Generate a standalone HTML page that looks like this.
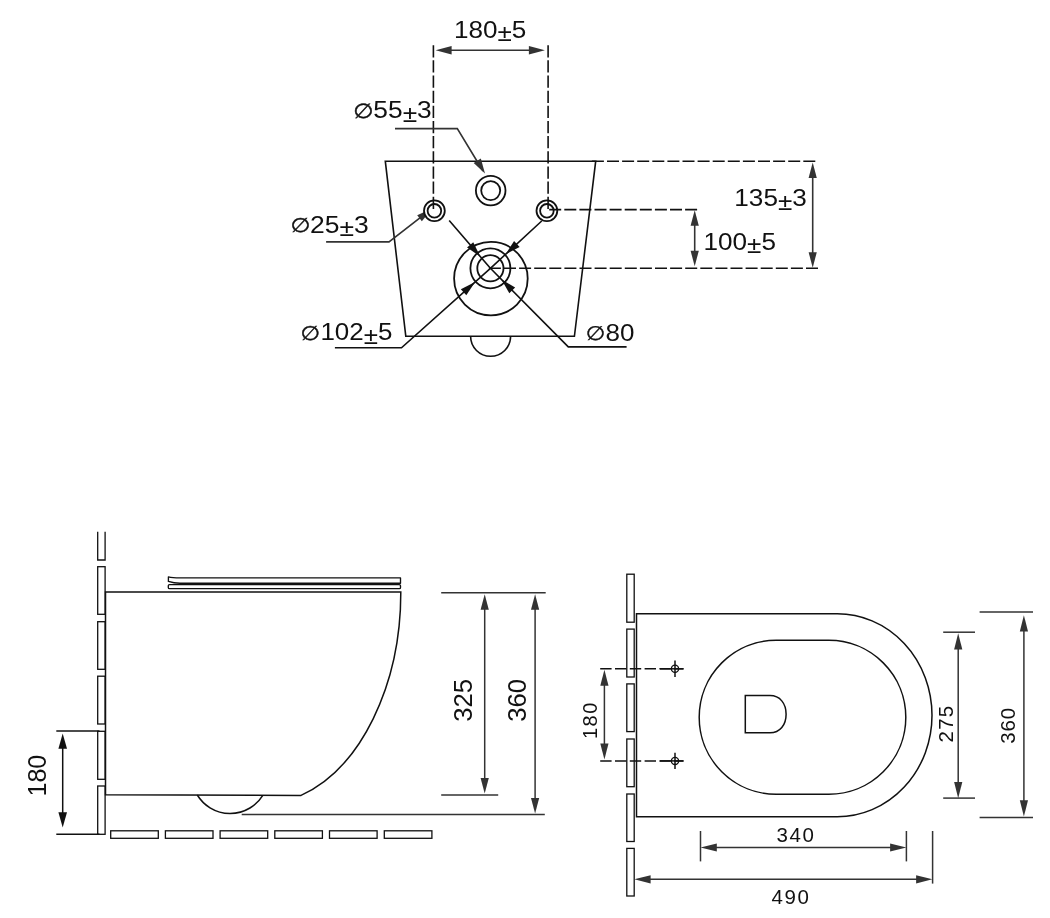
<!DOCTYPE html>
<html lang="en">
<head>
<meta charset="utf-8">
<title>Wall-hung toilet technical drawing</title>
<style>
html,body{margin:0;padding:0;background:#fff;}
body{width:1050px;height:918px;overflow:hidden;}
svg{display:block;will-change:transform;filter:grayscale(1);font-family:"Liberation Sans",sans-serif;}
.dia{font-family:"DejaVu Sans","Liberation Sans",sans-serif;}
</style>
</head>
<body>
<svg width="1050" height="918" viewBox="0 0 1050 918">
<rect width="1050" height="918" fill="#fff"/>
<g id="rear">
<path d="M385.3,161.2 H595.7 L574.4,336.3 H405.8 Z" fill="none" stroke="#111" stroke-width="1.6" stroke-linejoin="miter"/>
<path d="M470.6,336.3 A20,20 0 0 0 510.6,336.3" fill="none" stroke="#111" stroke-width="1.6"/>
<polyline points="326.1,241.9 389,241.9 432.5,208.2" fill="none" stroke="#333" stroke-width="1.6"/>
<polygon points="432.50,208.20 421.86,221.25 417.21,215.24" fill="#333"/>
<circle cx="490.70" cy="190.60" r="14.80" fill="none" stroke="#111" stroke-width="1.8"/>
<circle cx="490.70" cy="190.60" r="9.50" fill="none" stroke="#111" stroke-width="1.8"/>
<circle cx="434.40" cy="210.80" r="10.40" fill="#fff" stroke="#111" stroke-width="1.8"/>
<circle cx="434.40" cy="210.80" r="6.80" fill="none" stroke="#111" stroke-width="1.8"/>
<circle cx="546.90" cy="210.80" r="10.40" fill="none" stroke="#111" stroke-width="1.8"/>
<circle cx="546.90" cy="210.80" r="6.80" fill="none" stroke="#111" stroke-width="1.8"/>
<circle cx="490.40" cy="268.30" r="20.00" fill="none" stroke="#111" stroke-width="1.8"/>
<circle cx="490.40" cy="268.30" r="13.10" fill="none" stroke="#111" stroke-width="1.8"/>
<circle cx="490.90" cy="278.60" r="36.80" fill="none" stroke="#111" stroke-width="1.8"/>
<line x1="433.40" y1="45.20" x2="433.40" y2="208.90" stroke="#111" stroke-width="1.6" stroke-dasharray="12.25 2.9"/>
<line x1="548.10" y1="45.20" x2="548.10" y2="208.90" stroke="#111" stroke-width="1.6" stroke-dasharray="12.25 2.9"/>
<line x1="448.40" y1="50.30" x2="532.10" y2="50.30" stroke="#333" stroke-width="1.6"/><polygon points="435.60,50.30 451.60,46.00 451.60,54.60" fill="#333"/><polygon points="544.90,50.30 528.90,54.60 528.90,46.00" fill="#333"/>
<text transform="translate(454.02 37.50) scale(1.1344 1.0000)" font-size="23.0" fill="#111">180<tspan dy="3.4">±</tspan><tspan dy="-3.4">5</tspan></text>
<line x1="591.90" y1="161.20" x2="817.50" y2="161.20" stroke="#111" stroke-width="1.6" stroke-dasharray="12 3.1"/>
<line x1="549.20" y1="209.60" x2="698.50" y2="209.60" stroke="#111" stroke-width="1.6" stroke-dasharray="12 3.1"/>
<line x1="488.90" y1="268.30" x2="818.30" y2="268.30" stroke="#111" stroke-width="1.6" stroke-dasharray="12 3.1"/>
<line x1="812.70" y1="175.00" x2="812.70" y2="255.30" stroke="#333" stroke-width="1.6"/><polygon points="812.70,162.60 816.80,178.10 808.60,178.10" fill="#333"/><polygon points="812.70,267.70 808.60,252.20 816.80,252.20" fill="#333"/>
<line x1="694.70" y1="222.60" x2="694.70" y2="253.90" stroke="#333" stroke-width="1.6"/><polygon points="694.70,210.20 698.80,225.70 690.60,225.70" fill="#333"/><polygon points="694.70,266.30 690.60,250.80 698.80,250.80" fill="#333"/>
<text transform="translate(734.31 206.40) scale(1.1369 1.0000)" font-size="23.0" fill="#111">135<tspan dy="3.4">±</tspan><tspan dy="-3.4">3</tspan></text>
<text transform="translate(703.51 249.70) scale(1.1361 1.0000)" font-size="23.0" fill="#111">100<tspan dy="3.4">±</tspan><tspan dy="-3.4">5</tspan></text>
<polyline points="395,128.6 457.3,128.6 483,171" fill="none" stroke="#333" stroke-width="1.6"/>
<polygon points="485.00,173.60 473.70,162.90 480.81,158.61" fill="#333"/>
<text transform="translate(353.35 118.40) scale(1.1450 1)" font-size="23.0" fill="#111"><tspan class="dia" font-size="20.34" dy="-0.6" stroke="#111" stroke-width="0.42">∅</tspan><tspan dx="-0.25" dy="0.6">55<tspan dy="3.4">±</tspan><tspan dy="-3.4">3</tspan></tspan></text>
<text transform="translate(290.59 232.90) scale(1.1525 1)" font-size="23.0" fill="#111"><tspan class="dia" font-size="19.83" dy="-0.6" stroke="#111" stroke-width="0.42">∅</tspan><tspan dx="-0.37" dy="0.6">25<tspan dy="3.4">±</tspan><tspan dy="-3.4">3</tspan></tspan></text>
<polyline points="449.2,220.5 490.4,268.3 568.3,346.9 626.6,346.9" fill="none" stroke="#111" stroke-width="1.6"/>
<polyline points="541.7,221 490.4,268.3 401.5,347.8 334.9,347.8" fill="none" stroke="#111" stroke-width="1.6"/>
<polygon points="480.28,256.56 467.06,247.50 473.27,242.14" fill="#111"/>
<polygon points="501.31,279.31 515.13,287.43 509.31,293.20" fill="#111"/>
<polygon points="505.47,254.40 514.09,240.88 519.65,246.91" fill="#111"/>
<polygon points="475.12,281.97 466.30,295.35 460.83,289.24" fill="#111"/>
<text transform="translate(300.42 340.20) scale(1.1295 1)" font-size="23.0" fill="#111"><tspan class="dia" font-size="19.86" dy="-0.6" stroke="#111" stroke-width="0.42">∅</tspan><tspan dx="0.42" dy="0.6">102<tspan dy="3.4">±</tspan><tspan dy="-3.4">5</tspan></tspan></text>
<text transform="translate(585.74 340.50) scale(1.1302 1)" font-size="23.0" fill="#111"><tspan class="dia" font-size="19.59" dy="-0.6" stroke="#111" stroke-width="0.42">∅</tspan><tspan dx="0.49" dy="0.6">80</tspan></text>
</g>
<g id="side">
<path d="M97.7,531.7 V560 H105.1 V531.7" fill="none" stroke="#111" stroke-width="1.3"/>
<rect x="97.7" y="566.7" width="7.4" height="47.6" fill="none" stroke="#111" stroke-width="1.3"/>
<rect x="97.7" y="621.7" width="7.4" height="47.6" fill="none" stroke="#111" stroke-width="1.3"/>
<rect x="97.7" y="676.2" width="7.4" height="47.8" fill="none" stroke="#111" stroke-width="1.3"/>
<rect x="97.7" y="731.3" width="7.4" height="48.0" fill="none" stroke="#111" stroke-width="1.3"/>
<rect x="97.7" y="786.0" width="7.4" height="48.3" fill="none" stroke="#111" stroke-width="1.3"/>
<rect x="110.7" y="830.8" width="47.6" height="7.5" fill="none" stroke="#111" stroke-width="1.3"/>
<rect x="165.4" y="830.8" width="47.6" height="7.5" fill="none" stroke="#111" stroke-width="1.3"/>
<rect x="220.1" y="830.8" width="47.6" height="7.5" fill="none" stroke="#111" stroke-width="1.3"/>
<rect x="274.8" y="830.8" width="47.6" height="7.5" fill="none" stroke="#111" stroke-width="1.3"/>
<rect x="329.5" y="830.8" width="47.6" height="7.5" fill="none" stroke="#111" stroke-width="1.3"/>
<rect x="384.3" y="830.8" width="47.6" height="7.5" fill="none" stroke="#111" stroke-width="1.3"/>
<path d="M105.5,794.7 V592.1 H400.8 A140,212 0 0 1 301,795.4 Z" fill="none" stroke="#111" stroke-width="1.5"/>
<path d="M197.3,795 A38.4,38.4 0 0 0 262.8,795.3" fill="none" stroke="#111" stroke-width="1.5"/>
<path d="M168.4,576.8 C172,577.8 175,577.9 180,577.9 H400.5 V583.2 H180 C175,583.2 172,582.6 168.4,581.4 Z" fill="none" stroke="#111" stroke-width="1.35" stroke-linejoin="round"/>
<rect x="168.3" y="584.6" width="232.2" height="4.1" rx="1.2" fill="none" stroke="#111" stroke-width="1.35"/>
<line x1="241.70" y1="814.50" x2="544.80" y2="814.50" stroke="#333" stroke-width="1.5"/>
<line x1="441.20" y1="592.70" x2="545.70" y2="592.70" stroke="#333" stroke-width="1.5"/>
<line x1="441.20" y1="795.10" x2="498.20" y2="795.10" stroke="#333" stroke-width="1.5"/>
<line x1="484.70" y1="606.60" x2="484.70" y2="781.20" stroke="#333" stroke-width="1.5"/><polygon points="484.70,594.20 488.80,609.70 480.60,609.70" fill="#333"/><polygon points="484.70,793.60 480.60,778.10 488.80,778.10" fill="#333"/>
<line x1="535.10" y1="606.60" x2="535.10" y2="801.20" stroke="#333" stroke-width="1.5"/><polygon points="535.10,594.20 539.20,609.70 531.00,609.70" fill="#333"/><polygon points="535.10,813.60 531.00,798.10 539.20,798.10" fill="#333"/>
<text transform="translate(471.60 721.78) rotate(-90) scale(1.0054 1.0000)" font-size="25.6" fill="#111">325</text>
<text transform="translate(526.20 721.78) rotate(-90) scale(1.0036 1.0000)" font-size="25.6" fill="#111">360</text>
<line x1="56.30" y1="730.90" x2="99.50" y2="730.90" stroke="#111" stroke-width="1.5"/>
<line x1="56.30" y1="834.30" x2="99.50" y2="834.30" stroke="#111" stroke-width="1.5"/>
<line x1="62.70" y1="745.64" x2="62.70" y2="815.36" stroke="#111" stroke-width="1.5"/><polygon points="62.70,733.40 67.00,748.70 58.40,748.70" fill="#111"/><polygon points="62.70,827.60 58.40,812.30 67.00,812.30" fill="#111"/>
<text transform="translate(45.90 796.61) rotate(-90) scale(0.9828 1.0000)" font-size="25.6" fill="#111">180</text>
</g>
<g id="top">
<rect x="626.8" y="574.2" width="7.4" height="48.0" fill="none" stroke="#111" stroke-width="1.3"/>
<rect x="626.8" y="629.1" width="7.4" height="47.9" fill="none" stroke="#111" stroke-width="1.3"/>
<rect x="626.8" y="683.9" width="7.4" height="47.7" fill="none" stroke="#111" stroke-width="1.3"/>
<rect x="626.8" y="739.0" width="7.4" height="47.7" fill="none" stroke="#111" stroke-width="1.3"/>
<rect x="626.8" y="794.0" width="7.4" height="47.5" fill="none" stroke="#111" stroke-width="1.3"/>
<rect x="626.8" y="848.4" width="7.4" height="47.6" fill="none" stroke="#111" stroke-width="1.3"/>
<path d="M636.5,613.8 H837.2 A94.8,101.5 0 0 1 837.2,816.8 H636.5 Z" fill="none" stroke="#111" stroke-width="1.5"/>
<path d="M776.2,640.3 H828.8 A77,77 0 0 1 828.8,794.3 H776.2 A77,77 0 0 1 776.2,640.3 Z" fill="none" stroke="#111" stroke-width="1.5"/>
<path d="M745.3,695.6 H770 C780,695.6 786.1,703.5 786.1,714.2 C786.1,725 780,732.8 770,732.8 H745.3 Z" fill="none" stroke="#111" stroke-width="1.5"/>
<line x1="600.20" y1="668.80" x2="683.50" y2="668.80" stroke="#111" stroke-width="1.5" stroke-dasharray="11.4 3.4"/>
<line x1="660.00" y1="668.80" x2="683.50" y2="668.80" stroke="#111" stroke-width="1.5"/>
<circle cx="675.00" cy="668.80" r="3.60" fill="none" stroke="#111" stroke-width="1.3"/>
<line x1="675.00" y1="660.60" x2="675.00" y2="677.00" stroke="#111" stroke-width="1.5"/>
<line x1="600.20" y1="760.90" x2="683.50" y2="760.90" stroke="#111" stroke-width="1.5" stroke-dasharray="11.4 3.4"/>
<line x1="660.00" y1="760.90" x2="683.50" y2="760.90" stroke="#111" stroke-width="1.5"/>
<circle cx="675.00" cy="760.90" r="3.60" fill="none" stroke="#111" stroke-width="1.3"/>
<line x1="675.00" y1="752.70" x2="675.00" y2="769.10" stroke="#111" stroke-width="1.5"/>
<line x1="604.40" y1="682.50" x2="604.40" y2="746.70" stroke="#333" stroke-width="1.5"/><polygon points="604.40,669.70 608.50,685.70 600.30,685.70" fill="#333"/><polygon points="604.40,759.50 600.30,743.50 608.50,743.50" fill="#333"/>
<text transform="translate(597.20 739.12) rotate(-90)" font-size="20" fill="#111" textLength="36.59" lengthAdjust="spacing">180</text>
<line x1="943.20" y1="632.20" x2="975.00" y2="632.20" stroke="#333" stroke-width="1.5"/>
<line x1="943.20" y1="798.10" x2="975.00" y2="798.10" stroke="#333" stroke-width="1.5"/>
<line x1="958.20" y1="646.24" x2="958.20" y2="785.26" stroke="#333" stroke-width="1.5"/><polygon points="958.20,633.20 962.30,649.50 954.10,649.50" fill="#333"/><polygon points="958.20,798.30 954.10,782.00 962.30,782.00" fill="#333"/>
<line x1="979.60" y1="612.10" x2="1033.00" y2="612.10" stroke="#333" stroke-width="1.5"/>
<line x1="979.60" y1="817.40" x2="1033.00" y2="817.40" stroke="#333" stroke-width="1.5"/>
<line x1="1023.90" y1="628.24" x2="1023.90" y2="803.46" stroke="#333" stroke-width="1.5"/><polygon points="1023.90,615.20 1028.00,631.50 1019.80,631.50" fill="#333"/><polygon points="1023.90,816.50 1019.80,800.20 1028.00,800.20" fill="#333"/>
<text transform="translate(953.10 742.42) rotate(-90)" font-size="20.5" fill="#111" textLength="36.58" lengthAdjust="spacing">275</text>
<text transform="translate(1015.20 743.68) rotate(-90)" font-size="20.5" fill="#111" textLength="35.87" lengthAdjust="spacing">360</text>
<line x1="700.50" y1="831.00" x2="700.50" y2="861.40" stroke="#333" stroke-width="1.5"/>
<line x1="906.40" y1="831.00" x2="906.40" y2="861.40" stroke="#333" stroke-width="1.5"/>
<line x1="713.54" y1="847.50" x2="893.36" y2="847.50" stroke="#333" stroke-width="1.5"/><polygon points="700.50,847.50 716.80,843.40 716.80,851.60" fill="#333"/><polygon points="906.40,847.50 890.10,851.60 890.10,843.40" fill="#333"/>
<line x1="932.60" y1="831.00" x2="932.60" y2="883.60" stroke="#333" stroke-width="1.5"/>
<line x1="647.34" y1="879.30" x2="919.36" y2="879.30" stroke="#333" stroke-width="1.5"/><polygon points="634.30,879.30 650.60,875.20 650.60,883.40" fill="#333"/><polygon points="932.40,879.30 916.10,883.40 916.10,875.20" fill="#333"/>
<text x="776.62" y="842.00" font-size="20.5" fill="#111" textLength="37.17" lengthAdjust="spacing">340</text>
<text x="771.55" y="904.40" font-size="20.5" fill="#111" textLength="37.24" lengthAdjust="spacing">490</text>
</g>
</svg>
</body>
</html>
